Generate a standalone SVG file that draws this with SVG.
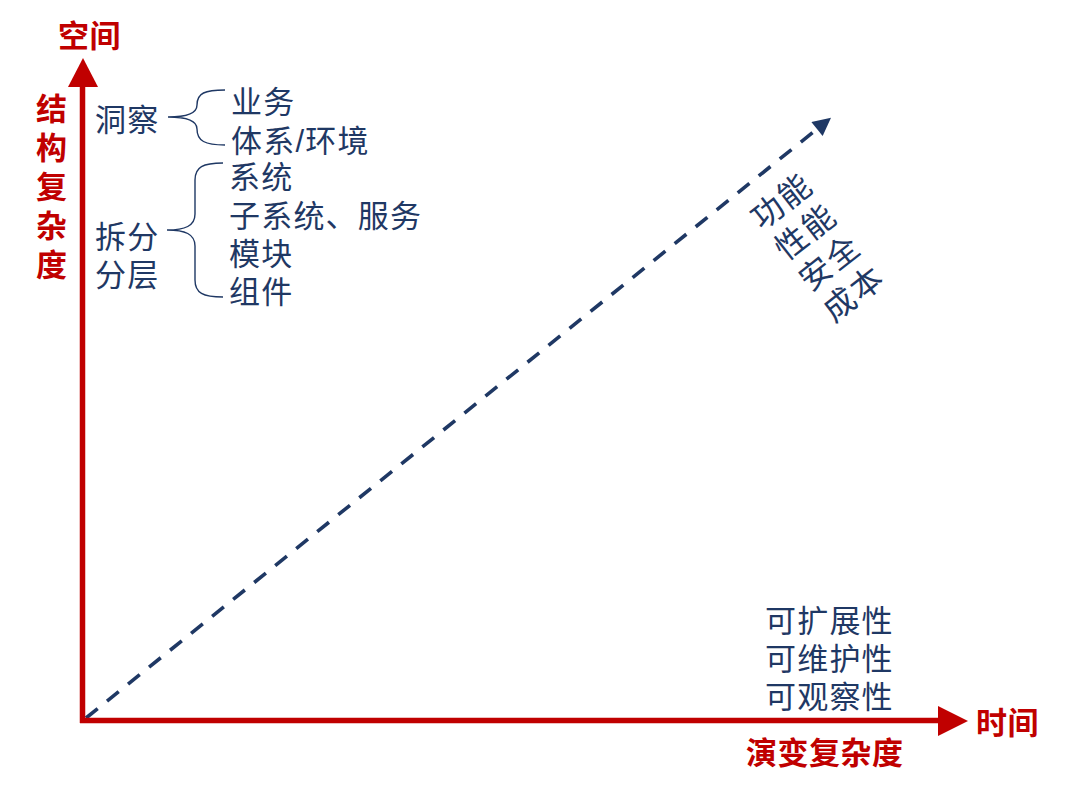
<svg xmlns="http://www.w3.org/2000/svg" width="1066" height="787" viewBox="0 0 1066 787">
<style>
.red{fill:#C00000;font-family:"Liberation Sans","Noto Sans CJK SC",sans-serif;font-weight:bold;font-size:31px;letter-spacing:0.5px}
.blue{fill:#1F3864;font-family:"Liberation Sans","Noto Sans CJK SC",sans-serif;font-size:31px;letter-spacing:1.2px}
.rot{font-size:32px;letter-spacing:2px}
.brace{fill:none;stroke:#1F3864;stroke-width:1.4}
</style>
<defs>
<marker id="navyHead" viewBox="0 0 10 10" refX="0" refY="5" markerWidth="5.4" markerHeight="5" markerUnits="strokeWidth" orient="auto">
<path d="M0,0 L10,5 L0,10 z" fill="#1F3864"/>
</marker>
</defs>
<rect width="1066" height="787" fill="#fff"/>
<g id="connectors">
<line x1="86" y1="718" x2="817" y2="129" stroke="#1F3864" stroke-width="3.6" stroke-dasharray="15,12" marker-end="url(#navyHead)"/>
<g id="y-axis">
<line x1="82.5" y1="723" x2="82.5" y2="86" stroke="#C00000" stroke-width="5.5"/>
<polygon points="68,87 98,87 83,58" fill="#C00000"/>
</g>
<g id="x-axis">
<line x1="80" y1="720.5" x2="940" y2="720.5" stroke="#C00000" stroke-width="5.5"/>
<polygon points="938,706 938,736 968,721" fill="#C00000"/>
</g>
<path class="brace" d="M225,90 C205,90 197,93 197,105 C197,114 185,117 168,117 C185,117 197,120 197,129 C197,141 205,145 225,145"/>
<path class="brace" d="M223,163 C203,163 195,167 195,180 L195,214 C195,226 185,230 167,230 C185,230 195,234 195,246 L195,280 C195,293 203,297 223,297"/>
</g>
<g id="space-label"><text class="red" x="58" y="47">空间</text></g>
<g id="structure-label">
<text class="red" x="36" y="120">结</text>
<text class="red" x="36" y="159">构</text>
<text class="red" x="36" y="198">复</text>
<text class="red" x="36" y="237">杂</text>
<text class="red" x="36" y="276">度</text>
</g>
<g id="insight">
<text class="blue" x="95" y="131">洞察</text>
<text class="blue" x="231" y="113">业务</text>
<text class="blue" x="231" y="152">体系/环境</text>
</g>
<g id="split">
<text class="blue" x="95" y="248">拆分</text>
<text class="blue" x="95" y="286">分层</text>
<text class="blue" x="229" y="188">系统</text>
<text class="blue" x="229" y="227">子系统、服务</text>
<text class="blue" x="229" y="265">模块</text>
<text class="blue" x="229" y="303">组件</text>
</g>
<g id="quality" transform="translate(762,231) rotate(-38)">
<text class="blue rot" x="0" y="0">功能</text>
<text class="blue rot" x="0" y="39">性能</text>
<text class="blue rot" x="0" y="78">安全</text>
<text class="blue rot" x="0" y="117">成本</text>
</g>
<g id="evolution">
<text class="blue" x="765" y="632">可扩展性</text>
<text class="blue" x="765" y="670">可维护性</text>
<text class="blue" x="765" y="708">可观察性</text>
</g>
<g id="time-label"><text class="red" x="976" y="734">时间</text></g>
<g id="evolution-label"><text class="red" x="746" y="764">演变复杂度</text></g>
</svg>
